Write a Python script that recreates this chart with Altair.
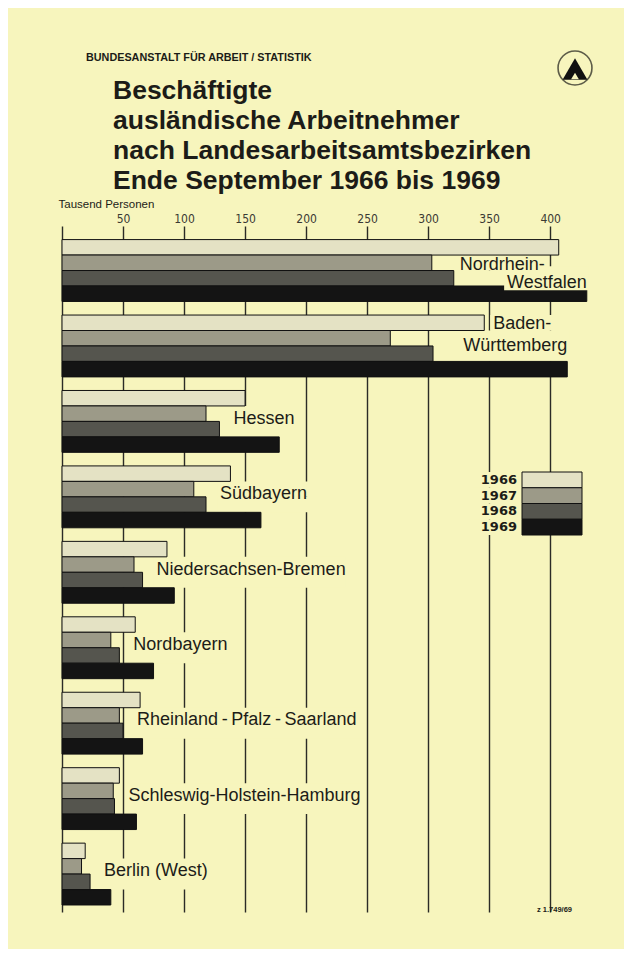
import altair as alt
import pandas as pd

# ---------------- data ----------------
regions = [
    "Nordrhein-Westfalen", "Baden-Württemberg", "Hessen", "Südbayern",
    "Niedersachsen-Bremen", "Nordbayern", "Rheinland-Pfalz-Saarland",
    "Schleswig-Holstein-Hamburg", "Berlin (West)",
]
years = ["1966", "1967", "1968", "1969"]
v1966 = [407, 346, 150, 138, 86, 60, 64, 47, 19]
v1967 = [303, 269, 118, 108, 59, 40, 47, 42, 16]
v1968 = [321, 304, 129, 118, 66, 47, 50, 43, 23]
v1969 = [430, 414, 178, 163, 92, 75, 66, 61, 40]
tick_values = [0, 50, 100, 150, 200, 250, 300, 350, 400]

header_text = "BUNDESANSTALT FÜR ARBEIT / STATISTIK"
title_lines = [
    "Beschäftigte",
    "ausländische Arbeitnehmer",
    "nach Landesarbeitsamtsbezirken",
    "Ende September 1966 bis 1969",
]
unit_text = "Tausend Personen"
note_text = "z 1.749/69"

# label lines: region, text, year whose bar end anchors it, row, style, rows to clear
label_lines = [
    ("Nordrhein-Westfalen", "Nordrhein-", "1968", "1967", "left_nrw", ["1967", "1968"]),
    ("Nordrhein-Westfalen", "Westfalen", "1969", "1968", "right_low", ["1968"]),
    ("Baden-Württemberg", "Baden-", "1966", "1966", "left_top", ["1966"]),
    ("Baden-Württemberg", "Württemberg", "1969", "1967", "right_mid", ["1967", "1968"]),
    ("Hessen", "Hessen", "1968", "1967", "left", ["1967", "1968"]),
    ("Südbayern", "Südbayern", "1968", "1967", "left", ["1967", "1968"]),
    ("Niedersachsen-Bremen", "Niedersachsen-Bremen", "1968", "1967", "left", ["1967", "1968"]),
    ("Nordbayern", "Nordbayern", "1968", "1967", "left", ["1967", "1968"]),
    ("Rheinland-Pfalz-Saarland", "Rheinland\u2009-\u2009Pfalz\u2009-\u2009Saarland", "1968", "1967", "left", ["1967", "1968"]),
    ("Schleswig-Holstein-Hamburg", "Schleswig-Holstein-Hamburg", "1968", "1967", "left", ["1967", "1968"]),
    ("Berlin (West)", "Berlin (West)", "1968", "1967", "left", ["1967", "1968"]),
]

# ---------------- styles ----------------
PAPER = "#f7f5bd"
INK = "#1c1c18"
year_colors = ["#e4e2c4", "#9c9a88", "#55554e", "#141414"]
SANS = "Liberation Sans, Arial, Helvetica, sans-serif"
NARROW = "Liberation Sans Narrow, Arial Narrow, DejaVu Sans Condensed, Liberation Sans, sans-serif"
LABEL_SIZE = 18
PX_PER_UNIT = 537 / 440
# text style: align, dx (px), dy (px)
label_styles = {
    "left": ("left", 14, 5),
    "left_nrw": ("left", 6, 2.5),
    "left_top": ("left", 9, 1),
    "right_low": ("right", 0, 4.7),
    "right_mid": ("right", 0, 7.5),
}


def text_width(t):
    """rough pixel width of a label in the label font"""
    w = 0.0
    for ch in t:
        if ch in "ilftrj-() \u2009":
            w += 0.29
        elif ch in "mwMW":
            w += 0.80
        elif ch.isupper():
            w += 0.68
        else:
            w += 0.54
    return w * LABEL_SIZE


series = {"1966": v1966, "1967": v1967, "1968": v1968, "1969": v1969}
rows = []
for y in years:
    for r, v in zip(regions, series[y]):
        rows.append({"region": r, "year": y, "value": v})
bars_df = pd.DataFrame(rows)

lab_rows, bg_rows = [], []
for r, t, anchor, row, style, cover in label_lines:
    a = series[anchor][regions.index(r)]
    align, dx, _ = label_styles[style]
    w = text_width(t) / PX_PER_UNIT
    if align == "left":
        x0 = a + (dx - 3) / PX_PER_UNIT
        x1 = x0 + w + 6 / PX_PER_UNIT
    else:
        x1 = a + 2 / PX_PER_UNIT
        x0 = x1 - w - 6 / PX_PER_UNIT
    lab_rows.append({"region": r, "text": t, "row": row, "style": style, "x": a,
                     "x0": x0, "x1": x1})
    for c in cover:
        bg_rows.append({"region": r, "row": c, "x0": x0, "x1": x1})
labels_df = pd.DataFrame(lab_rows)
bg_df = pd.DataFrame(bg_rows)

legend_df = pd.DataFrame({"year": years})

y_enc = alt.Y("region:N", sort=regions, axis=None,
              scale=alt.Scale(paddingInner=0.18, paddingOuter=0.1365, align=0.66))
fill_scale = alt.Scale(domain=years, range=year_colors)
x_scale = alt.Scale(domain=[0, 440], nice=False, zero=True)

x_axis = alt.Axis(
    orient="top", values=tick_values, grid=True, gridColor="#2b2b26", gridWidth=1.4,
    domain=False, ticks=False, tickSize=0, labelPadding=1,
    labelExpr="datum.value == 0 ? '' : datum.label",
    labelFont=NARROW, labelFontSize=12, labelColor="#3a3a34",
    title=unit_text, titleFont=SANS, titleFontSize=11.5, titleFontWeight="normal",
    titleColor=INK, titleAnchor="start", titleAlign="left", titleBaseline="alphabetic",
    titleX=-4, titleY=-19,
)

# paper-coloured patches that keep the grid lines away from the labels
label_bg = alt.Chart(bg_df).mark_bar(fill=PAPER, stroke=None).encode(
    x=alt.X("x0:Q", scale=x_scale),
    x2="x1:Q",
    y=y_enc,
    yOffset=alt.YOffset("row:N", sort=years),
)

bars = alt.Chart(bars_df).mark_bar(stroke="#111111", strokeWidth=1).encode(
    x=alt.X("value:Q", scale=x_scale, axis=x_axis),
    y=y_enc,
    yOffset=alt.YOffset("year:N", sort=years, scale=alt.Scale(paddingInner=0, paddingOuter=0)),
    fill=alt.Fill("year:N", scale=fill_scale, legend=None),
)

# the "Westfalen" line cuts into the top of the 1969 bar, as in the original
over_bg = alt.Chart(labels_df).transform_filter(alt.datum.style == "right_low").mark_bar(
    fill=PAPER, stroke=None, height=24,
).encode(
    x=alt.X("x0:Q", scale=x_scale),
    x2="x1:Q",
    y=y_enc,
    yOffset=alt.YOffset("row:N", sort=years),
)


def label_layer(style):
    align, dx, dy = label_styles[style]
    return alt.Chart(labels_df).transform_filter(alt.datum.style == style).mark_text(
        align=align, baseline="middle", dx=dx, dy=dy, font=SANS,
        fontSize=LABEL_SIZE, fill=INK,
    ).encode(
        x=alt.X("x:Q", scale=x_scale),
        y=y_enc,
        yOffset=alt.YOffset("row:N", sort=years),
        text="text:N",
    )


main = alt.layer(label_bg, bars, over_bg, *[label_layer(s) for s in label_styles])

leg_y = alt.Y("year:N", sort=years, axis=None,
              scale=alt.Scale(range=[246, 309], paddingInner=0, paddingOuter=0))
leg_bg = alt.Chart(legend_df).mark_rect(fill=PAPER).encode(
    x=alt.value(412), x2=alt.value(524), y=leg_y,
)
leg_rect = alt.Chart(legend_df).mark_rect(stroke="#111111", strokeWidth=1).encode(
    x=alt.value(460), x2=alt.value(520), y=leg_y,
    fill=alt.Fill("year:N", scale=fill_scale, legend=None),
)
leg_text = alt.Chart(legend_df).mark_text(
    align="right", baseline="middle", font="DejaVu Sans, Liberation Sans, sans-serif",
    fontSize=13, fontWeight="bold", fill=INK,
).encode(x=alt.value(455), y=leg_y, text="year:N")
legend = alt.layer(leg_bg, leg_rect, leg_text)

deco_df = pd.DataFrame({"header": [header_text], "note": [note_text]})
header = alt.Chart(deco_df).mark_text(
    align="left", baseline="middle", font=SANS, fontSize=10.8, fontWeight="bold", fill=INK,
).encode(x=alt.value(24), y=alt.value(-168), text="header:N")
title = alt.Chart(deco_df).mark_text(
    align="left", baseline="alphabetic", font=SANS, fontSize=26.5, fontWeight="bold",
    lineHeight=30, fill=INK,
).encode(x=alt.value(51), y=alt.value(-127), text=alt.value(title_lines))
note = alt.Chart(deco_df).mark_text(
    align="right", baseline="middle", font=SANS, fontSize=7.5, fontWeight="bold", fill=INK,
).encode(x=alt.value(510), y=alt.value(684), text="note:N")
logo_ring = alt.Chart(deco_df).mark_point(
    shape="circle", size=1150, filled=False, stroke=INK, strokeWidth=1.6,
).encode(x=alt.value(513), y=alt.value(-158))
logo_tri = alt.Chart(deco_df).mark_point(
    shape="triangle-up", size=620, filled=True, fill="#111111", opacity=1,
).encode(x=alt.value(513), y=alt.value(-157))
logo_hole = alt.Chart(deco_df).mark_point(
    shape="triangle-up", size=60, filled=True, fill=PAPER, opacity=1,
).encode(x=alt.value(513), y=alt.value(-150))

chart = alt.layer(
    main, legend, header, title, note, logo_ring, logo_tri, logo_hole
).resolve_scale(
    y="independent"
).properties(
    width=537,
    height=686,
    autosize=alt.AutoSizeParams(type="none"),
    padding={"left": 54, "top": 218, "right": 25, "bottom": 37},
    background=PAPER,
).configure_view(stroke=None)

chart.save("out.html", embed_options={"renderer": "svg", "actions": False})
